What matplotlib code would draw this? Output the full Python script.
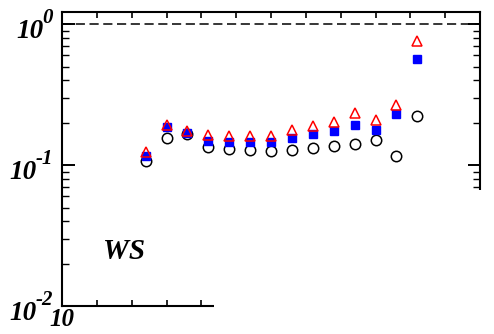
import matplotlib
matplotlib.use("Agg")
import matplotlib.pyplot as plt
from matplotlib.patches import Rectangle
from matplotlib.ticker import FixedLocator, LogLocator, NullFormatter
from matplotlib.transforms import blended_transform_factory, ScaledTranslation

x = [12.4, 13.0, 13.6, 14.2, 14.8, 15.4, 16.0, 16.6, 17.2, 17.8, 18.4, 19.0, 19.6, 20.2]
circles = [0.107, 0.156, 0.165, 0.134, 0.131, 0.129, 0.126, 0.129, 0.132, 0.136, 0.142, 0.151, 0.116, 0.224]
squares = [0.116, 0.186, 0.168, 0.149, 0.146, 0.147, 0.146, 0.156, 0.165, 0.174, 0.192, 0.177, 0.229, 0.562]
triangles = [0.124, 0.194, 0.174, 0.163, 0.161, 0.160, 0.162, 0.178, 0.190, 0.202, 0.233, 0.208, 0.269, 0.762]
reference_level = 1.0
panel_label = "WS"
ytick_vals = [0.01, 0.1, 1.0]
ytick_exps = ['-2', '-1', '0']
xtick_label = '10'

FONT = dict(fontfamily='Liberation Serif', fontweight='bold', fontstyle='italic')

fig = plt.figure(figsize=(4.94, 3.34), dpi=100)
ax = fig.add_axes([62/494, 28/334, 418/494, 294/334])
ax.set_yscale('log')
ax.set_xlim(10, 22)
ax.set_ylim(0.01, 1.22)

ax.axhline(reference_level, color='black', lw=1.1, ls=(0, (6, 3)), zorder=1)
ax.plot(x, circles, ls='none', marker='o', ms=7.5, mfc='none', mec='black', mew=1.1, zorder=2)
ax.plot(x, squares, ls='none', marker='s', ms=6.2, mfc='#0000ff', mec='#0000ff', zorder=3)
ax.plot(x, triangles, ls='none', marker='^', ms=7.5, mfc='none', mec='red', mew=1.1, zorder=4)

ax.text(11.78, 0.0245, panel_label, fontsize=21, ha='center', va='center', **FONT)

for s in ax.spines.values():
    s.set_linewidth(1.5)

ax.xaxis.set_major_locator(FixedLocator(list(range(10, 23))))
ax.set_xticklabels([xtick_label] + [''] * 12)
ax.yaxis.set_minor_locator(LogLocator(base=10, subs=range(2, 10), numticks=20))
ax.yaxis.set_minor_formatter(NullFormatter())
ax.set_yticks(ytick_vals)
ax.set_yticklabels([''] * len(ytick_vals))

ax.tick_params(axis='x', which='major', direction='in', top=True, bottom=True, length=4, width=1.2,
               labelsize=18, pad=1.5)
ax.tick_params(axis='y', which='major', direction='in', left=True, right=True, length=9, width=1.4)
ax.tick_params(axis='y', which='minor', direction='in', left=True, right=True, length=5, width=1.0)
for lab in ax.get_xticklabels():
    lab.set_fontfamily('Liberation Serif')
    lab.set_fontweight('bold')
    lab.set_fontstyle('italic')

# y tick labels as "10" with superscript exponent
renderer = fig.canvas.get_renderer()
blend = blended_transform_factory(fig.transFigure, ax.transData)
for v, e in zip(ytick_vals, ytick_exps):
    sup = fig.text(53/494, v, e, fontsize=15, ha='right', va='baseline',
                   transform=blend + ScaledTranslation(0, 0.01, fig.dpi_scale_trans), **FONT)
    bb = sup.get_window_extent(renderer)
    left_frac = (bb.x0 + 1.0) / fig.bbox.width
    fig.text(left_frac, v, '10', fontsize=19.5, ha='right', va='baseline',
             transform=blend + ScaledTranslation(0, -0.135, fig.dpi_scale_trans), **FONT)

# region covered by neighbouring panel (white)
fig.patches.append(Rectangle((214/494, 0), 1 - 214/494, (334-190)/334,
                             transform=fig.transFigure, facecolor='white', edgecolor='none', zorder=10))

fig.savefig('out.png', dpi=100)
